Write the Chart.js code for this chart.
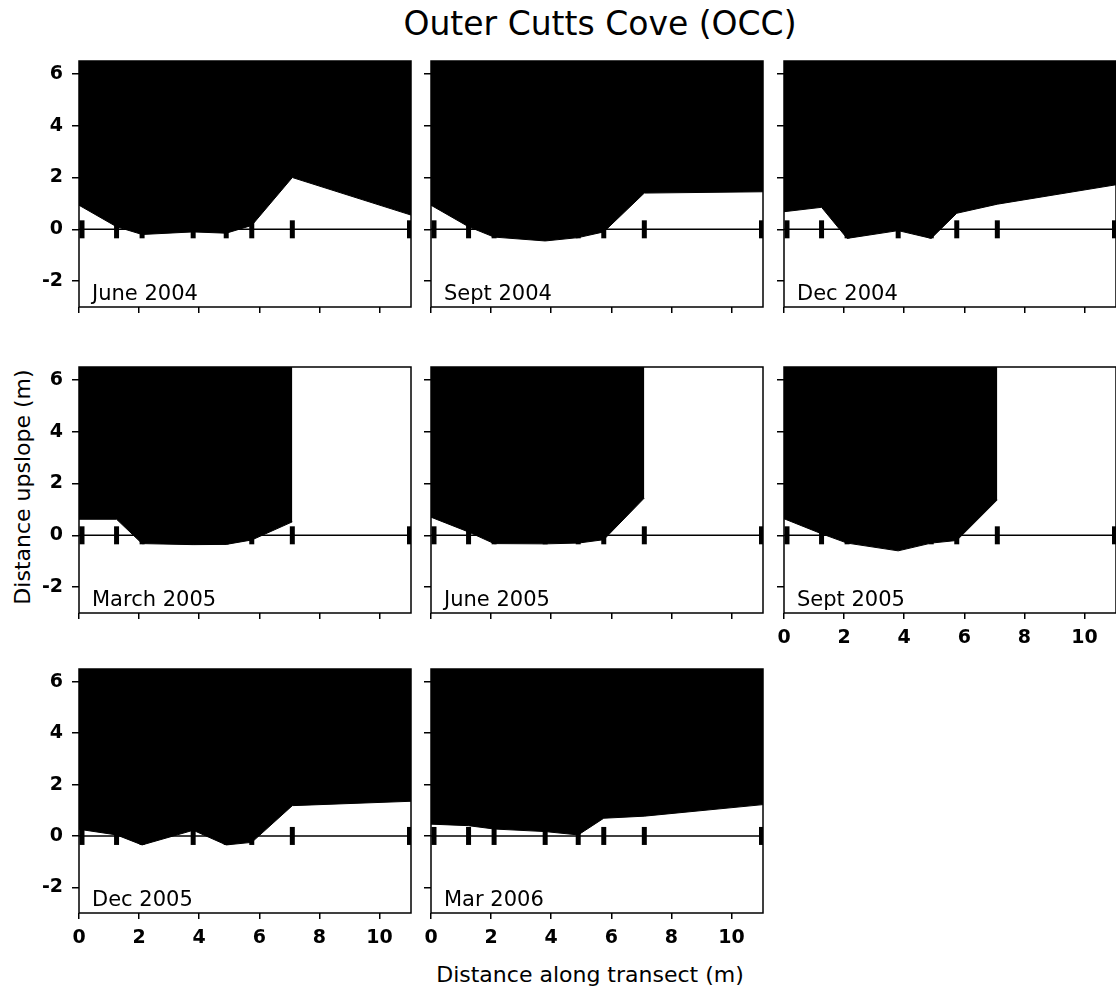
<!DOCTYPE html>
<html>
<head>
<meta charset="utf-8">
<script src="https://cdn.jsdelivr.net/npm/chart.js@4.4.1/dist/chart.umd.min.js"></script>
<style>
  html, body { margin: 0; padding: 0; background: #fff; overflow: hidden; }
  body { width: 1116px; height: 995px; position: relative; font-family: "DejaVu Sans", sans-serif; color: #000; }
  .panel { position: absolute; }
  #title { position: absolute; left: 300px; top: 6px; width: 600px; text-align: center; font-size: 33px; line-height: 36px; }
  #xtitle { position: absolute; left: 390px; top: 963px; width: 400px; text-align: center; font-size: 22px; line-height: 24px; }
  #ytitle { position: absolute; left: 23px; top: 487px; width: 320px; text-align: center; font-size: 22px; line-height: 24px;
            transform: translate(-50%, -50%) rotate(-90deg); }
</style>
</head>
<body>
<div id="title">Outer Cutts Cove (OCC)</div>
<div id="ytitle">Distance upslope (m)</div>
<div id="xtitle">Distance along transect (m)</div>

<script>
// survey stakes along the transect (m)
const stakeX = [0.1, 1.25, 2.1, 3.8, 4.9, 5.75, 7.1, 11.0];

// points where the edge was measured (m along transect)
const profileX = [0, 1.25, 2.1, 3.8, 4.9, 5.75, 7.1, 11.05];

// edge position upslope (m) for each survey
const jun04 = [0.93, 0.1, -0.2, -0.1, -0.15, 0.15, 2.0, 0.55];
const sep04 = [0.93, 0.1, -0.3, -0.45, -0.32, -0.1, 1.4, 1.45];
const dec04 = [0.68, 0.85, -0.35, -0.05, -0.35, 0.62, 0.97, 1.72];
const mar05 = [0.62, 0.62, -0.32, -0.36, -0.35, -0.18, 0.52];
const jun05 = [0.7, 0.13, -0.32, -0.33, -0.3, -0.17, 1.44];
const sep05 = [0.64, 0.06, -0.3, -0.6, -0.3, -0.2, 1.37];
const dec05 = [0.26, 0.04, -0.35, 0.22, -0.35, -0.25, 1.18, 1.35];
const mar06 = [0.46, 0.4, 0.27, 0.17, 0.04, 0.69, 0.77, 1.22];

const panelDates = ['June 2004', 'Sept 2004', 'Dec 2004', 'March 2005', 'June 2005', 'Sept 2005', 'Dec 2005', 'Mar 2006'];
const surveys = [jun04, sep04, dec04, mar05, jun05, sep05, dec05, mar06];

const xTicks = [0, 2, 4, 6, 8, 10];
const yTicks = [-2, 0, 2, 4, 6];

// grid placement
const colLeft = [79, 431, 784];
const rowTop = [61, 367, 669];
const rowHeight = [246, 246, 244];
const plotWidth = 332;
const axisW = 79, axisH = 50, pad = 10;

const tickFont = { family: 'DejaVu Sans', size: 19, weight: 'bold' };

// keep every panel's plot box at the same place, whatever its labels
function noPadding(s) {
  s.paddingTop = 0;
  s.paddingBottom = 0;
  s.paddingLeft = 0;
  s.paddingRight = 0;
}

// box around the plot + the date in the lower left corner
const framePlugin = {
  id: 'frame',
  afterDatasetsDraw(chart) {
    const a = chart.chartArea;
    const ctx = chart.ctx;
    ctx.save();
    ctx.strokeStyle = '#000';
    ctx.lineWidth = 1.5;
    ctx.strokeRect(a.left, a.top, a.right - a.left, a.bottom - a.top);
    ctx.fillStyle = '#000';
    ctx.font = '21px "DejaVu Sans"';
    ctx.textBaseline = 'alphabetic';
    ctx.fillText(chart.options.plugins.frame.label, a.left + 13, a.bottom - 7);
    ctx.restore();
  }
};

function makePanel(i) {
  const col = i % 3;
  const row = Math.floor(i / 3);
  const showX = row === 2 || i === 5;
  const showY = col === 0;
  const h = rowHeight[row];

  const wrap = document.createElement('div');
  wrap.className = 'panel';
  wrap.style.left = (colLeft[col] - axisW) + 'px';
  wrap.style.top = (rowTop[row] - pad) + 'px';
  const canvas = document.createElement('canvas');
  canvas.width = axisW + plotWidth + pad;
  canvas.height = pad + h + axisH;
  wrap.appendChild(canvas);
  document.body.appendChild(wrap);

  const yVals = surveys[i];
  const profile = yVals.map((y, k) => ({ x: profileX[k], y: y }));
  const stakes = stakeX.map(x => ({ x: x, y: 0 }));

  new Chart(canvas, {
    type: 'scatter',
    data: {
      datasets: [
        {
          type: 'line',
          data: profile,
          fill: 'end',
          backgroundColor: '#000',
          borderColor: '#000',
          borderWidth: 1,
          pointRadius: 0,
          tension: 0,
          order: 3
        },
        {
          type: 'line',
          data: [{ x: 0, y: 0 }, { x: 11.05, y: 0 }],
          borderColor: '#000',
          borderWidth: 1.5,
          pointRadius: 0,
          fill: false,
          order: 2
        },
        {
          data: stakes,
          pointStyle: 'line',
          rotation: 90,
          pointRadius: 9,
          pointHoverRadius: 9,
          borderWidth: 5,
          borderColor: '#000',
          backgroundColor: '#000',
          order: 1
        }
      ]
    },
    options: {
      responsive: false,
      animation: false,
      events: [],
      layout: { autoPadding: false, padding: { top: pad, right: pad, left: 0, bottom: 0 } },
      plugins: {
        legend: { display: false },
        tooltip: { enabled: false },
        frame: { label: panelDates[i] }
      },
      scales: {
        x: {
          type: 'linear',
          min: 0,
          max: 11.05,
          afterBuildTicks: s => { s.ticks = xTicks.map(v => ({ value: v })); },
          afterFit: s => { s.height = axisH; noPadding(s); },
          border: { display: false },
          grid: { drawOnChartArea: false, color: '#000', lineWidth: 1.5, tickLength: 6 },
          ticks: { display: showX, color: '#000', padding: 8, maxRotation: 0, font: tickFont }
        },
        y: {
          type: 'linear',
          min: -3,
          max: 6.5,
          afterBuildTicks: s => { s.ticks = yTicks.map(v => ({ value: v })); },
          afterFit: s => { s.width = axisW; noPadding(s); },
          border: { display: false },
          grid: { drawOnChartArea: false, color: '#000', lineWidth: 1.5, tickLength: 7 },
          ticks: { display: showY, color: '#000', padding: 9, font: tickFont }
        }
      }
    },
    plugins: [framePlugin]
  });
}

for (let i = 0; i < surveys.length; i++) {
  makePanel(i);
}
</script>
</body>
</html>
